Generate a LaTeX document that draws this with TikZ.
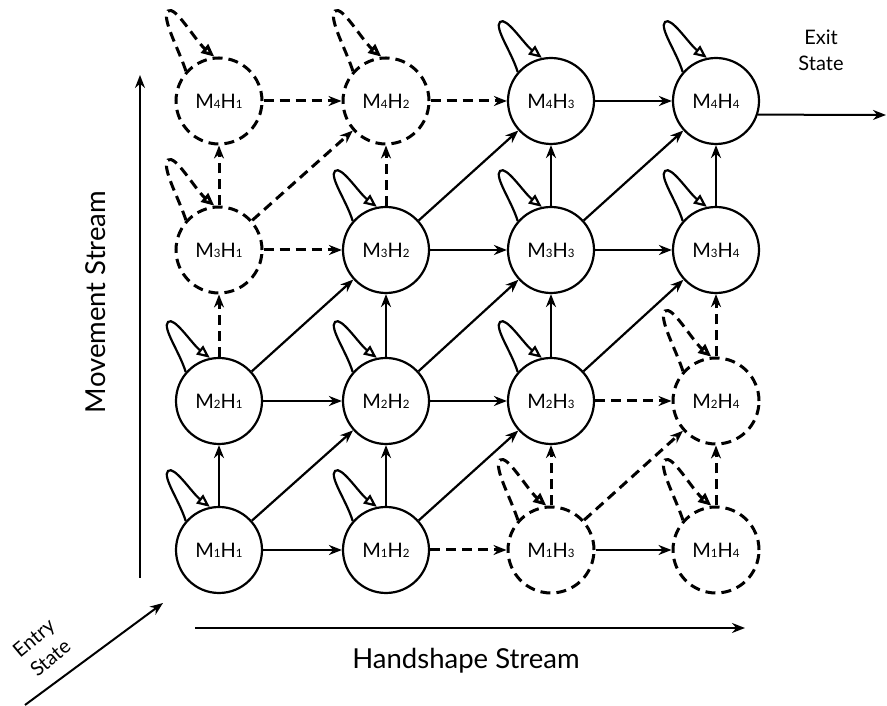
\documentclass[tikz,border=0pt]{standalone}
\usepackage{fontspec}
\setmainfont{Lato}
\usetikzlibrary{arrows.meta}
% state label: M and H with small baseline digits
\newcommand{\mhlabel}[2]{M{\fontsize{11.5}{11.5}\selectfont #1}H{\fontsize{11.5}{11.5}\selectfont #2}}
\begin{document}
\begin{tikzpicture}[x=1pt,y=1pt,
  state/.style={circle, draw, line width=2.2pt, minimum size=86pt, inner sep=0pt,
                font=\fontsize{20}{24}\selectfont},
  dstate/.style={state, line width=3pt, dash pattern=on 10pt off 6pt},
  flow/.style={-{Stealth[length=13pt,width=10pt]}, line width=2.2pt},
  dflow/.style={flow, line width=3pt, dash pattern=on 10pt off 6pt},
  selfarrow/.style={-{Triangle[open,length=13pt,width=11pt]}, line width=2.2pt},
  dselfarrow/.style={selfarrow, line width=3pt, dash pattern=on 10pt off 6pt},
  axis/.style={-{Stealth[length=13pt,width=10pt]}, line width=2pt},
  caption/.style={font=\fontsize{27.5}{32}\selectfont},
  smallcap/.style={font=\fontsize{20}{26}\selectfont, align=center}]

\useasboundingbox (0,0) rectangle (887,706);

% grid of states: n<movement><handshape>
\node[state]  (n11) at (219,156) {\mhlabel{1}{1}};
\node[state]  (n12) at (386,156) {\mhlabel{1}{2}};
\node[dstate] (n13) at (551,156) {\mhlabel{1}{3}};
\node[dstate] (n14) at (716,156) {\mhlabel{1}{4}};
\node[state]  (n21) at (219,305) {\mhlabel{2}{1}};
\node[state]  (n22) at (386,305) {\mhlabel{2}{2}};
\node[state]  (n23) at (551,305) {\mhlabel{2}{3}};
\node[dstate] (n24) at (716,305) {\mhlabel{2}{4}};
\node[dstate] (n31) at (219,456) {\mhlabel{3}{1}};
\node[state]  (n32) at (386,456) {\mhlabel{3}{2}};
\node[state]  (n33) at (551,456) {\mhlabel{3}{3}};
\node[state]  (n34) at (716,456) {\mhlabel{3}{4}};
\node[dstate] (n41) at (219,605) {\mhlabel{4}{1}};
\node[dstate] (n42) at (386,605) {\mhlabel{4}{2}};
\node[state]  (n43) at (551,605) {\mhlabel{4}{3}};
\node[state]  (n44) at (716,605) {\mhlabel{4}{4}};

% transitions
\foreach \a/\b in {11/12,11/21,11/22,12/22,12/23,13/14,21/22,21/32,22/23,22/32,
                   22/33,23/33,23/34,32/33,32/43,33/34,33/43,33/44,34/44,43/44}
  \draw[flow] (n\a) -- (n\b);
\foreach \a/\b in {12/13,13/23,13/24,14/24,21/31,23/24,24/34,31/32,31/41,31/42,
                   32/42,41/42,42/43}
  \draw[dflow] (n\a) -- (n\b);

% self transitions: teardrop loops on the upper left of each state,
% built from two curves meeting at a rounded tip
\foreach \a in {11,12,21,22,23,32,33,34,43,44}
  \draw[selfarrow] (n\a.139)
      .. controls +(-6,20) and ([shift={(-57,73)}]n\a.center)
      .. ([shift={(-51,79)}]n\a.center)
      .. controls ([shift={(-45,85)}]n\a.center) and +(-18,14)
      .. (n\a.102);
\foreach \a in {13,14,24,31,41,42}
  \draw[dselfarrow] (n\a.138)
      .. controls +(-7,22) and ([shift={(-58,83)}]n\a.center)
      .. ([shift={(-51,90)}]n\a.center)
      .. controls ([shift={(-44,96)}]n\a.center) and +(-19,16)
      .. (n\a.96);

% entry and exit
\coordinate (entryA) at (25,1);
\coordinate (entryB) at (163,103);
\draw[axis] (entryA) -- (entryB);
\node[smallcap, rotate=40] (entrytxt) at (42,58) {Entry\\State};
\coordinate (exitB) at (886,591);
\draw[axis] (n44.-18.5) -- (exitB);
\node[smallcap] (exittxt) at (821,656) {Exit\\State};

% stream axes
\coordinate (hA) at (195,78);
\coordinate (hB) at (745,78);
\draw[axis] (hA) -- (hB);
\node[caption] (htxt) at (466,45) {Handshape Stream};
\coordinate (vA) at (140,128);
\coordinate (vB) at (140,631);
\draw[axis] (vA) -- (vB);
\node[caption, rotate=90] (vtxt) at (96,404) {Movement Stream};
\end{tikzpicture}
\end{document}
